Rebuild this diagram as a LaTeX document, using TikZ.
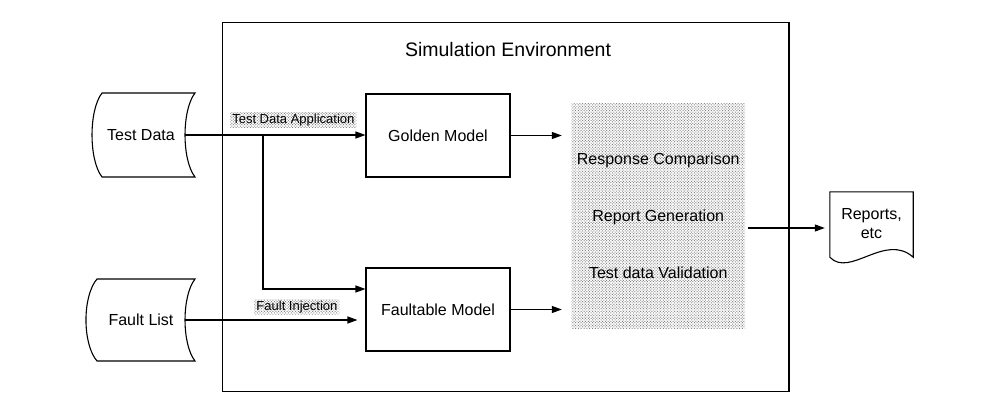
\documentclass[tikz,border=0pt]{standalone}
\usepackage{fontspec}
\setmainfont{Liberation Sans}
\usepackage{tikz}
\usetikzlibrary{arrows.meta, calc, patterns.meta}

\tikzset{
  txt/.style={font=\fontsize{16}{19}\selectfont},
  block/.style={draw, line width=1.1pt, txt, minimum width=144pt, minimum height=83pt},
  arrow/.style={line width=1.1pt, -{Triangle[length=10pt,width=7pt]}},
  dotfill/.style={pattern={Dots[distance=2pt,radius=0.7pt,angle=45]}, pattern color=gray!95},
  tag/.style={dotfill, inner xsep=2pt, inner ysep=1.5pt, font=\fontsize{13}{15}\selectfont},
}

\begin{document}
\begin{tikzpicture}[x=1pt, y=-1pt]
            \useasboundingbox (0,0) rectangle (995,409);
            % simulation environment
            \node[draw, line width=1.1pt, minimum width=566.5pt, minimum height=369pt] (env) at (505.75,207) {};
            \node[font=\fontsize{19.5}{23}\selectfont] (title) at (508,50) {Simulation Environment};
            % inputs
            \node[txt, minimum width=88pt] (td) at (141,135) {Test Data};
            \node[txt, minimum width=88pt] (fl) at (141,320) {Fault List};
            \draw[line width=1.1pt] (102,93) -- (195,93) .. controls (181.7,110) and (181.7,160) .. (195,177)
                -- (102,177) .. controls (88.7,160) and (88.7,110) .. (102,93) -- cycle;
            \draw[line width=1.1pt] (97,279) -- (195,279) .. controls (181.7,296) and (181.7,344) .. (195,361)
                -- (97,361) .. controls (82.3,344) and (82.3,296) .. (97,279) -- cycle;
            % models
            \node[block] (gm) at (438,135.5) {Golden Model};
            \node[block] (fm) at (438,309.5) {Faultable Model};
            % checking
            \node[dotfill, txt, minimum width=173.5pt, minimum height=224pt, align=center] (proc) at (658.25,216)
                {Response Comparison\\[38pt]Report Generation\\[38pt]Test data Validation};
            % output
            \node[minimum width=83pt, minimum height=72pt] (rep) at (871.5,228) {};
            \draw[line width=1.1pt] (rep.north west) -- (rep.north east) -- ($(rep.south east)+(0,-7)$)
                .. controls ($(rep.south east)+(-28,-32)$) and ($(rep.south west)+(20,14)$) .. ($(rep.south west)+(0,-7)$) -- cycle;
            \node[txt, align=center] (reptxt) at ($(rep)+(0,-4.5)$) {Reports,\\etc};
            % connections
            \coordinate (br) at (263,135);
            \draw[arrow] (td.east) -- node[tag, pos=0.6, above=7pt] (tda) {Test Data Application} (td.east -| gm.west);
            \draw[arrow] (br) |- ($(fm.west)+(0,-20.5)$);
            \draw[arrow, shorten >=8pt] (fl.east) -- node[tag, pos=0.62, above=5pt] (fi) {Fault Injection} (fl.east -| fm.west);
            \draw[arrow, shorten >=9.5pt] (gm.east) -- (gm.east -| proc.west);
            \draw[arrow, shorten >=9.5pt] (fm.east) -- (fm.east -| proc.west);
            \draw[arrow, shorten <=3pt, shorten >=5pt] (proc.east |- rep.west) -- (rep.west);
        \end{tikzpicture}
\end{document}
